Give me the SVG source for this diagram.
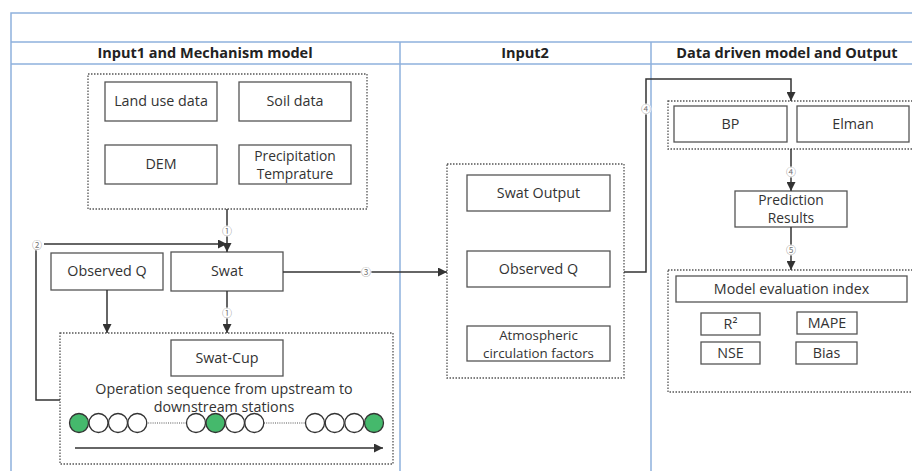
<svg xmlns="http://www.w3.org/2000/svg" width="912" height="471" viewBox="0 0 912 471">
<defs>
<marker id="arr" viewBox="0 0 10 10" refX="10" refY="5" markerWidth="9" markerHeight="9" markerUnits="userSpaceOnUse" orient="auto">
<path d="M0,0 L10,5 L0,10 z" fill="#333"/>
</marker>
</defs>
<style>
.frame{stroke:#8fb1dd;stroke-width:1.5;fill:none}
.box{fill:#fff;stroke:#555;stroke-width:1.3}
.grp{fill:none;stroke:#555;stroke-width:1.3;stroke-dasharray:1.5 1.5}
.t{font-family:"Open Sans","Noto Sans",sans-serif;font-size:14.3px;fill:#333;text-anchor:middle}
.t2{font-family:"Open Sans","Noto Sans",sans-serif;font-size:13.8px;fill:#333;text-anchor:middle}
.t3{font-family:"Open Sans","Noto Sans",sans-serif;font-size:13.3px;fill:#333;text-anchor:middle}
.h{font-family:"Open Sans","Noto Sans",sans-serif;font-size:14.5px;font-weight:bold;fill:#222;text-anchor:middle}
.c{stroke:#333;stroke-width:1.5;fill:none}
.n{font-family:"Noto Sans CJK SC","DejaVu Sans",sans-serif;font-size:10px;fill:#777;text-anchor:middle}
.nb{fill:#fff}
.o{fill:#fff;stroke:#333;stroke-width:1.3}
.g{fill:#45b96c;stroke:#333;stroke-width:1.3}
.d{stroke:#555;stroke-width:1;stroke-dasharray:1 1.2}
</style>
<rect width="912" height="471" fill="#fff"/>
<g id="frame">
<path class="frame" d="M11,471 V13 H912 M11,42 H912 M11,64 H912 M400,42 V471 M651,42 V471"/>
<text class="h" x="205" y="58">Input1 and Mechanism model</text>
<text class="h" x="525" y="58">Input2</text>
<text class="h" x="787" y="58">Data driven model and Output</text>
</g>
<g id="input1-group">
<rect class="grp" x="88" y="74" width="279" height="135"/>
</g>
<g id="land-use"><rect class="box" x="105" y="82" width="112" height="39"/><text class="t" x="161" y="106">Land use data</text></g>
<g id="soil"><rect class="box" x="239" y="82" width="112" height="39"/><text class="t" x="295" y="106">Soil data</text></g>
<g id="dem"><rect class="box" x="105" y="145" width="112" height="39"/><text class="t" x="161" y="169">DEM</text></g>
<g id="precip"><rect class="box" x="239" y="145" width="112" height="39"/><text class="t2" x="295" y="161">Precipitation</text><text class="t2" x="295" y="179">Temprature</text></g>
<g id="observed-q1"><rect class="box" x="51" y="253" width="112" height="37"/><text class="t" x="107" y="276">Observed Q</text></g>
<g id="swat"><rect class="box" x="171" y="252" width="112" height="39"/><text class="t" x="227" y="276">Swat</text></g>
<g id="swatcup-group">
<rect class="grp" x="60" y="333" width="333" height="131"/>
<rect class="box" x="171" y="340" width="112" height="36"/><text class="t" x="227" y="363">Swat-Cup</text>
<text class="t" x="224" y="394">Operation sequence from upstream to</text>
<text class="t" x="224" y="412">downstream stations</text>
<line class="d" x1="146" y1="423" x2="187" y2="423"/>
<line class="d" x1="264" y1="423" x2="306" y2="423"/>
<circle class="o" cx="137.3" cy="423" r="9.5"/><circle class="o" cx="118" cy="423" r="9.5"/><circle class="o" cx="98.5" cy="423" r="9.5"/><circle class="g" cx="79" cy="423" r="9.5"/>
<circle class="o" cx="254.3" cy="423" r="9.5"/><circle class="o" cx="235" cy="423" r="9.5"/><circle class="o" cx="196" cy="423" r="9.5"/><circle class="g" cx="215.5" cy="423" r="9.5"/>
<circle class="o" cx="315" cy="423" r="9.5"/><circle class="o" cx="334.7" cy="423" r="9.5"/><circle class="o" cx="354.3" cy="423" r="9.5"/><circle class="g" cx="374" cy="423" r="9.5"/>
<line class="c" x1="75" y1="448" x2="383" y2="448" marker-end="url(#arr)"/>
</g>
<g id="input2-group"><rect class="grp" x="447" y="164" width="177" height="214"/></g>
<g id="swat-output"><rect class="box" x="467" y="175" width="143" height="36"/><text class="t" x="538.5" y="198">Swat Output</text></g>
<g id="observed-q2"><rect class="box" x="467" y="251" width="143" height="36"/><text class="t" x="538.5" y="274">Observed Q</text></g>
<g id="atmospheric"><rect class="box" x="467" y="326" width="143" height="35"/><text class="t3" x="538.5" y="339.5">Atmospheric</text><text class="t3" x="538.5" y="357.5">circulation factors</text></g>
<g id="model-group"><rect class="grp" x="668" y="101" width="260" height="48"/></g>
<g id="bp"><rect class="box" x="674" y="106" width="113" height="36"/><text class="t" x="730.5" y="129">BP</text></g>
<g id="elman"><rect class="box" x="797" y="106" width="112" height="36"/><text class="t" x="853" y="129">Elman</text></g>
<g id="prediction"><rect class="box" x="735" y="191" width="112" height="36"/><text class="t2" x="791" y="205">Prediction</text><text class="t2" x="791" y="223">Results</text></g>
<g id="evaluation">
<rect class="grp" x="668" y="270" width="260" height="122"/>
<rect class="box" x="676" y="276" width="231" height="26"/><text class="t" x="791.5" y="294">Model evaluation index</text>
<rect class="box" x="701" y="313" width="59" height="22"/><text class="t" x="730.5" y="329">R²</text>
<rect class="box" x="797" y="312" width="60" height="22"/><text class="t" x="827" y="328">MAPE</text>
<rect class="box" x="701" y="342" width="59" height="22"/><text class="t" x="730.5" y="358">NSE</text>
<rect class="box" x="796" y="342" width="61" height="22"/><text class="t" x="826.5" y="358">Bias</text>
</g>
<g id="connectors">
<line class="c" x1="227" y1="209" x2="227" y2="252" marker-end="url(#arr)"/>
<polyline class="c" points="44,244 227,244" marker-end="url(#arr)"/>
<polyline class="c" points="36,250 36,400 60,400"/>
<line class="c" x1="107" y1="290" x2="107" y2="333" marker-end="url(#arr)"/>
<line class="c" x1="227" y1="291" x2="227" y2="333" marker-end="url(#arr)"/>
<line class="c" x1="283" y1="272" x2="447" y2="272" marker-end="url(#arr)"/>
<polyline class="c" points="624,272 646,272 646,79 791,79 791,101" marker-end="url(#arr)"/>
<line class="c" x1="791" y1="149" x2="791" y2="191" marker-end="url(#arr)"/>
<line class="c" x1="791" y1="227" x2="791" y2="270" marker-end="url(#arr)"/>
<circle class="nb" cx="227" cy="231" r="5.5"/><text class="n" x="227" y="234.5">①</text>
<circle class="nb" cx="37" cy="245" r="5.5"/><text class="n" x="37" y="248.5">②</text>
<circle class="nb" cx="227" cy="313" r="5.5"/><text class="n" x="227" y="316.5">①</text>
<circle class="nb" cx="366" cy="272" r="5.5"/><text class="n" x="366" y="275.5">③</text>
<circle class="nb" cx="646" cy="109" r="5.5"/><text class="n" x="646" y="112.5">④</text>
<circle class="nb" cx="791" cy="172" r="5.5"/><text class="n" x="791" y="175.5">④</text>
<circle class="nb" cx="791" cy="250" r="5.5"/><text class="n" x="791" y="253.5">⑤</text>
</g>
</svg>
